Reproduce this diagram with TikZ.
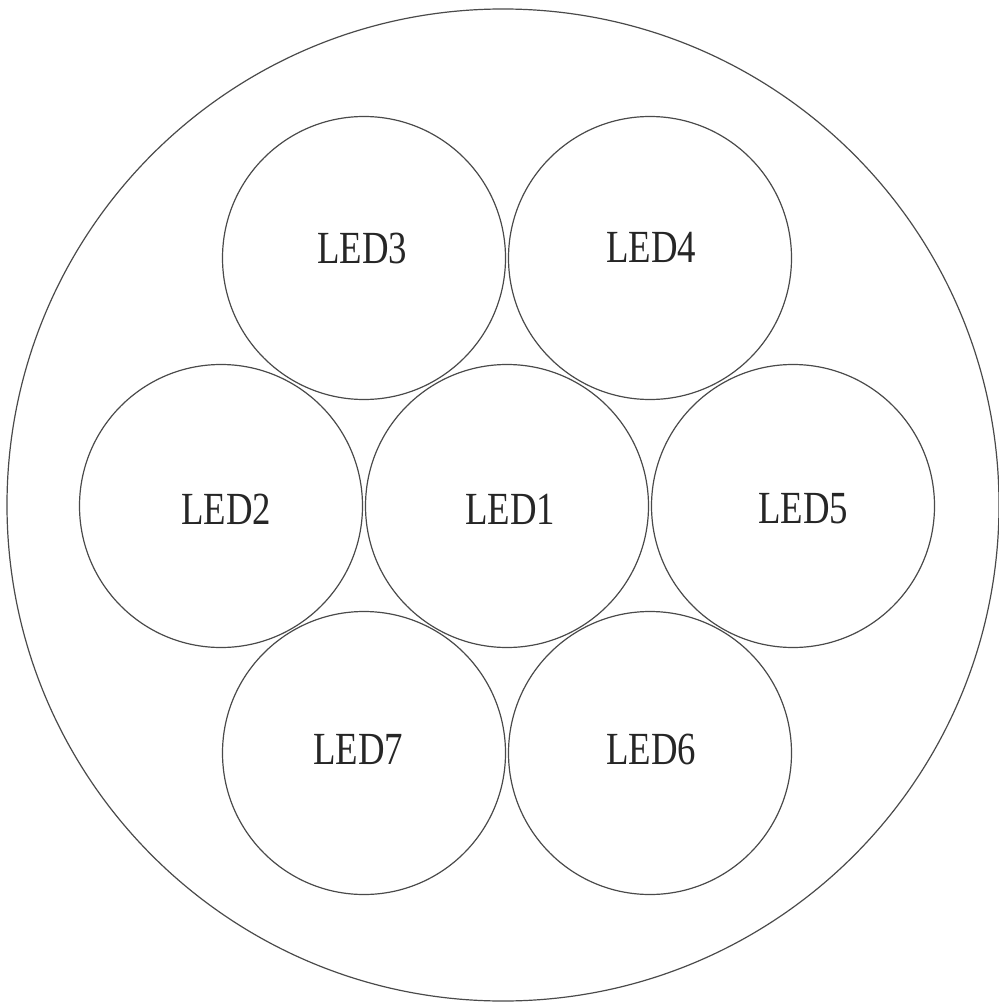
\documentclass[tikz,border=0pt]{standalone}
\usepackage{fontspec}
\setmainfont{Liberation Serif}
\usepackage{tikz}
\definecolor{LEDLine}{HTML}{4A4A4A}
\newcommand{\ledname}[1]{\scalebox{0.8}[1]{#1}}

\begin{document}
\begin{tikzpicture}[x=0.5pt,y=-0.5pt,
  housing/.style={circle,draw=LEDLine,line width=0.6pt,inner sep=0pt,minimum size=496pt},
  ledbox/.style={circle,draw=LEDLine,line width=0.6pt,inner sep=0pt,minimum size=141.5pt},
  ledtext/.style={inner sep=0pt,font=\fontsize{23}{23}\selectfont,text=black!85}]
\path[use as bounding box] (0,0) rectangle (998,1005);
\node[housing] (lamp) at (503,505) {};
\node[ledbox] (led1) at (507,506) {};
\node[ledbox] (led2) at (221,506) {};
\node[ledbox] (led3) at (364,258) {};
\node[ledbox] (led4) at (650,258) {};
\node[ledbox] (led5) at (793,506) {};
\node[ledbox] (led6) at (650,753) {};
\node[ledbox] (led7) at (364,753) {};
\node[ledtext] (t1) at (510,509) {\ledname{LED1}};
\node[ledtext] (t2) at (226,509) {\ledname{LED2}};
\node[ledtext] (t3) at (362,248) {\ledname{LED3}};
\node[ledtext] (t4) at (651,247) {\ledname{LED4}};
\node[ledtext] (t5) at (803,509) {\ledname{LED5}};
\node[ledtext] (t6) at (651,749) {\ledname{LED6}};
\node[ledtext] (t7) at (358,749) {\ledname{LED7}};
\end{tikzpicture}
\end{document}
